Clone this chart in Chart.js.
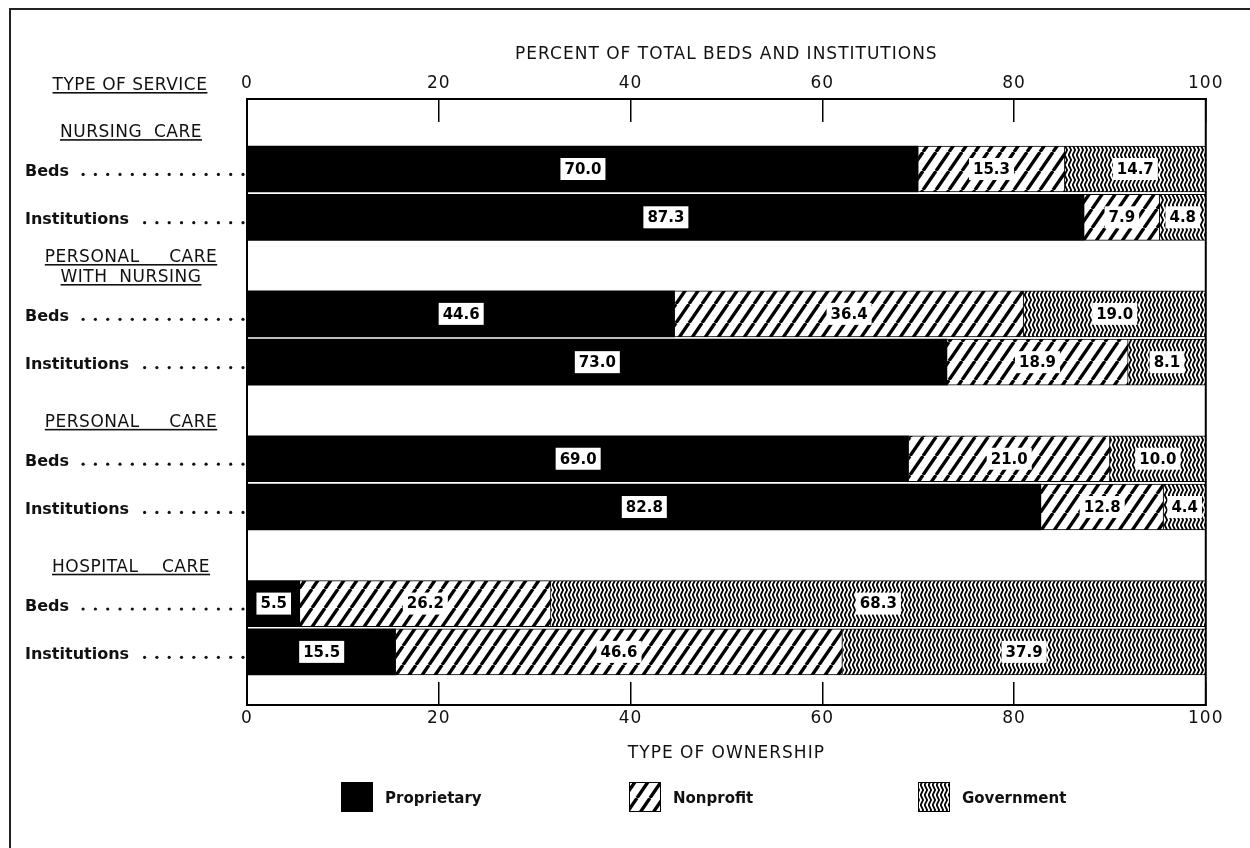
<!DOCTYPE html>
<html>
<head>
<meta charset="utf-8">
<script src="https://cdn.jsdelivr.net/npm/chart.js@4.4.1/dist/chart.umd.min.js"></script>
<style>
html, body { margin: 0; padding: 0; background: #fff; }
#wrap { width: 1250px; height: 848px; }
</style>
</head>
<body>
<div id="wrap"><canvas id="ownChart"></canvas></div>
<script>
var services = ['NURSING  CARE', ['PERSONAL     CARE', 'WITH  NURSING'], 'PERSONAL     CARE', 'HOSPITAL    CARE'];
var measures = ['Beds', 'Institutions'];
var proprietary = [70.0, 87.3, 44.6, 73.0, 69.0, 82.8, 5.5, 15.5];
var nonprofit   = [15.3, 7.9, 36.4, 18.9, 21.0, 12.8, 26.2, 46.6];
var government  = [14.7, 4.8, 19.0, 8.1, 10.0, 4.4, 68.3, 37.9];
var xTicks = [0, 20, 40, 60, 80, 100];

var FONT = "'DejaVu Sans', sans-serif";

// each service takes three rows: header, Beds, Institutions
function toPoints(values) {
    var pts = [];
    values.forEach(function(v, i) {
        var g = Math.floor(i / 2);
        pts.push({x: v, y: g * 3 + 1 + (i % 2)});
    });
    return pts;
}

function hatchPattern() {
    var c = document.createElement('canvas');
    c.width = 13; c.height = 19;
    var g = c.getContext('2d');
    g.fillStyle = '#fff';
    g.fillRect(0, 0, 13, 19);
    g.strokeStyle = '#000';
    g.lineWidth = 3.3;
    for (var k = -1; k <= 1; k++) {
        g.beginPath();
        g.moveTo(k * 13, 19);
        g.lineTo(k * 13 + 13, 0);
        g.stroke();
    }
    return g.createPattern(c, 'repeat');
}

function zigzagPattern() {
    var c = document.createElement('canvas');
    c.width = 4; c.height = 10;
    var g = c.getContext('2d');
    g.fillStyle = '#fff';
    g.fillRect(0, 0, 4, 10);
    g.strokeStyle = '#000';
    g.lineWidth = 1.8;
    g.beginPath();
    g.moveTo(3.4, -0.5);
    g.lineTo(0.6, 5);
    g.lineTo(3.4, 10.5);
    g.stroke();
    return g.createPattern(c, 'repeat');
}

function setTicks(scale) {
    scale.ticks = xTicks.map(function(v) { return {value: v}; });
}

var sketchPlugin = {
    id: 'sketchPlugin',
    beforeDraw: function(chart) {
        var ctx = chart.ctx;
        ctx.save();
        ctx.fillStyle = '#fff';
        ctx.fillRect(0, 0, chart.width, chart.height);
        ctx.restore();
        ctx.letterSpacing = '1px';
    },
    afterDatasetsDraw: function(chart) {
        var ctx = chart.ctx;
        ctx.save();
        ctx.letterSpacing = '0px';
        ctx.font = 'bold 15px ' + FONT;
        ctx.textAlign = 'center';
        ctx.textBaseline = 'middle';
        var series = [proprietary, nonprofit, government];
        chart.data.datasets.forEach(function(ds, di) {
            var meta = chart.getDatasetMeta(di);
            meta.data.forEach(function(bar, i) {
                var p = bar.getProps(['x', 'y', 'base'], true);
                var txt = series[di][i].toFixed(1);
                var cx = (p.x + p.base) / 2;
                var w = ctx.measureText(txt).width + 8;
                ctx.fillStyle = '#fff';
                ctx.fillRect(cx - w / 2, p.y - 11, w, 22);
                ctx.fillStyle = '#000';
                ctx.fillText(txt, cx, p.y + 1);
            });
        });
        ctx.restore();
    },
    afterDraw: function(chart) {
        var ctx = chart.ctx;
        var area = chart.chartArea;
        var yScale = chart.scales.y;
        var top = chart.scales.x2;
        ctx.save();
        ctx.letterSpacing = '0px';

        // scanned page frame
        ctx.strokeStyle = '#222';
        ctx.lineWidth = 2;
        ctx.beginPath();
        ctx.moveTo(10, chart.height);
        ctx.lineTo(10, 9);
        ctx.lineTo(chart.width, 9);
        ctx.stroke();

        // plot frame
        ctx.strokeStyle = '#000';
        ctx.lineWidth = 2;
        ctx.strokeRect(area.left, area.top, area.right - area.left, area.bottom - area.top);

        function underlined(text, cx, base) {
            var w = ctx.measureText(text).width;
            ctx.fillText(text, cx, base);
            ctx.fillRect(cx - w / 2, base + 2, w, 1.6);
        }

        ctx.fillStyle = '#111';
        ctx.textAlign = 'center';
        ctx.textBaseline = 'alphabetic';
        ctx.font = '17px ' + FONT;
        ctx.letterSpacing = '0.5px';
        underlined('TYPE OF SERVICE', 130, top.bottom - 9);

        services.forEach(function(s, g) {
            var lines = Array.isArray(s) ? s : [s];
            var yc = yScale.getPixelForValue(g * 3);
            ctx.font = '17px ' + FONT;
            ctx.textAlign = 'center';
            ctx.letterSpacing = '0.5px';
            lines.forEach(function(line, k) {
                var base = yc + 16.4 - (lines.length - 1 - k) * 20;
                underlined(line, 131, base);
            });
            ctx.letterSpacing = '0px';
            ctx.font = 'bold 16px ' + FONT;
            ctx.textAlign = 'left';
            measures.forEach(function(m, k) {
                var y = yScale.getPixelForValue(g * 3 + 1 + k);
                var base = y + 7;
                ctx.fillText(m, 25, base);
                var end = 25 + ctx.measureText(m).width;
                for (var x = area.left - 4; x > end + 6; x -= 12.3) {
                    ctx.beginPath();
                    ctx.arc(x, base - 1.6, 1.6, 0, Math.PI * 2);
                    ctx.fill();
                }
            });
        });

        // legend
        var lx = [341, 629, 918];
        var ly = chart.scales.x.bottom + 18;
        ctx.font = 'bold 15px ' + FONT;
        ctx.textAlign = 'left';
        ctx.textBaseline = 'middle';
        chart.data.datasets.forEach(function(ds, i) {
            ctx.fillStyle = ds.backgroundColor;
            ctx.fillRect(lx[i], ly, 32, 30);
            ctx.strokeStyle = '#000';
            ctx.lineWidth = 1;
            ctx.strokeRect(lx[i] + 0.5, ly + 0.5, 31, 29);
            ctx.fillStyle = '#111';
            ctx.fillText(ds.label, lx[i] + 44, ly + 17);
        });
        ctx.restore();
    }
};

var axisGrid = {
    drawOnChartArea: false,
    drawTicks: true,
    tickLength: -23,
    color: '#000',
    lineWidth: 1.5
};

var ctxD = document.getElementById('ownChart').getContext('2d');
var chartData = {
    type: 'bar',
    data: {
        datasets: [{
            label: 'Proprietary',
            data: toPoints(proprietary),
            backgroundColor: '#000',
            borderColor: '#000',
            borderWidth: 0
        }, {
            label: 'Nonprofit',
            data: toPoints(nonprofit),
            backgroundColor: hatchPattern(),
            borderColor: '#000',
            borderWidth: 1
        }, {
            label: 'Government',
            data: toPoints(government),
            backgroundColor: zigzagPattern(),
            borderColor: '#000',
            borderWidth: 1
        }]
    },
    options: {
        indexAxis: 'y',
        responsive: true,
        maintainAspectRatio: false,
        animation: false,
        barThickness: 46,
        layout: { padding: { left: 247, right: 43, top: 43, bottom: 84 } },
        plugins: {
            legend: { display: false },
            tooltip: { enabled: false }
        },
        scales: {
            y: {
                type: 'linear',
                display: false,
                reverse: true,
                offset: false,
                stacked: true,
                min: -0.45,
                max: 12.1
            },
            x: {
                type: 'linear',
                position: 'bottom',
                min: 0, max: 100,
                stacked: true,
                afterBuildTicks: setTicks,
                afterFit: function(s) { s.height = 59; },
                grid: axisGrid,
                border: { display: true, color: '#000', width: 2 },
                ticks: { padding: 26, color: '#111', font: { family: FONT, size: 17 } },
                title: {
                    display: true,
                    text: 'TYPE OF OWNERSHIP',
                    color: '#111',
                    padding: { top: 0, bottom: 0 },
                    font: { family: FONT, size: 17 }
                }
            },
            x2: {
                type: 'linear',
                position: 'top',
                min: 0, max: 100,
                afterBuildTicks: setTicks,
                afterFit: function(s) { s.height = 56; },
                grid: axisGrid,
                border: { display: true, color: '#000', width: 2 },
                ticks: { padding: 28, color: '#111', font: { family: FONT, size: 17 } },
                title: {
                    display: true,
                    text: 'PERCENT OF TOTAL BEDS AND INSTITUTIONS',
                    color: '#111',
                    padding: { top: 1, bottom: 0 },
                    font: { family: FONT, size: 17 }
                }
            }
        }
    },
    plugins: [sketchPlugin]
};

var ownChart = new Chart(ctxD, chartData);
</script>
</body>
</html>
